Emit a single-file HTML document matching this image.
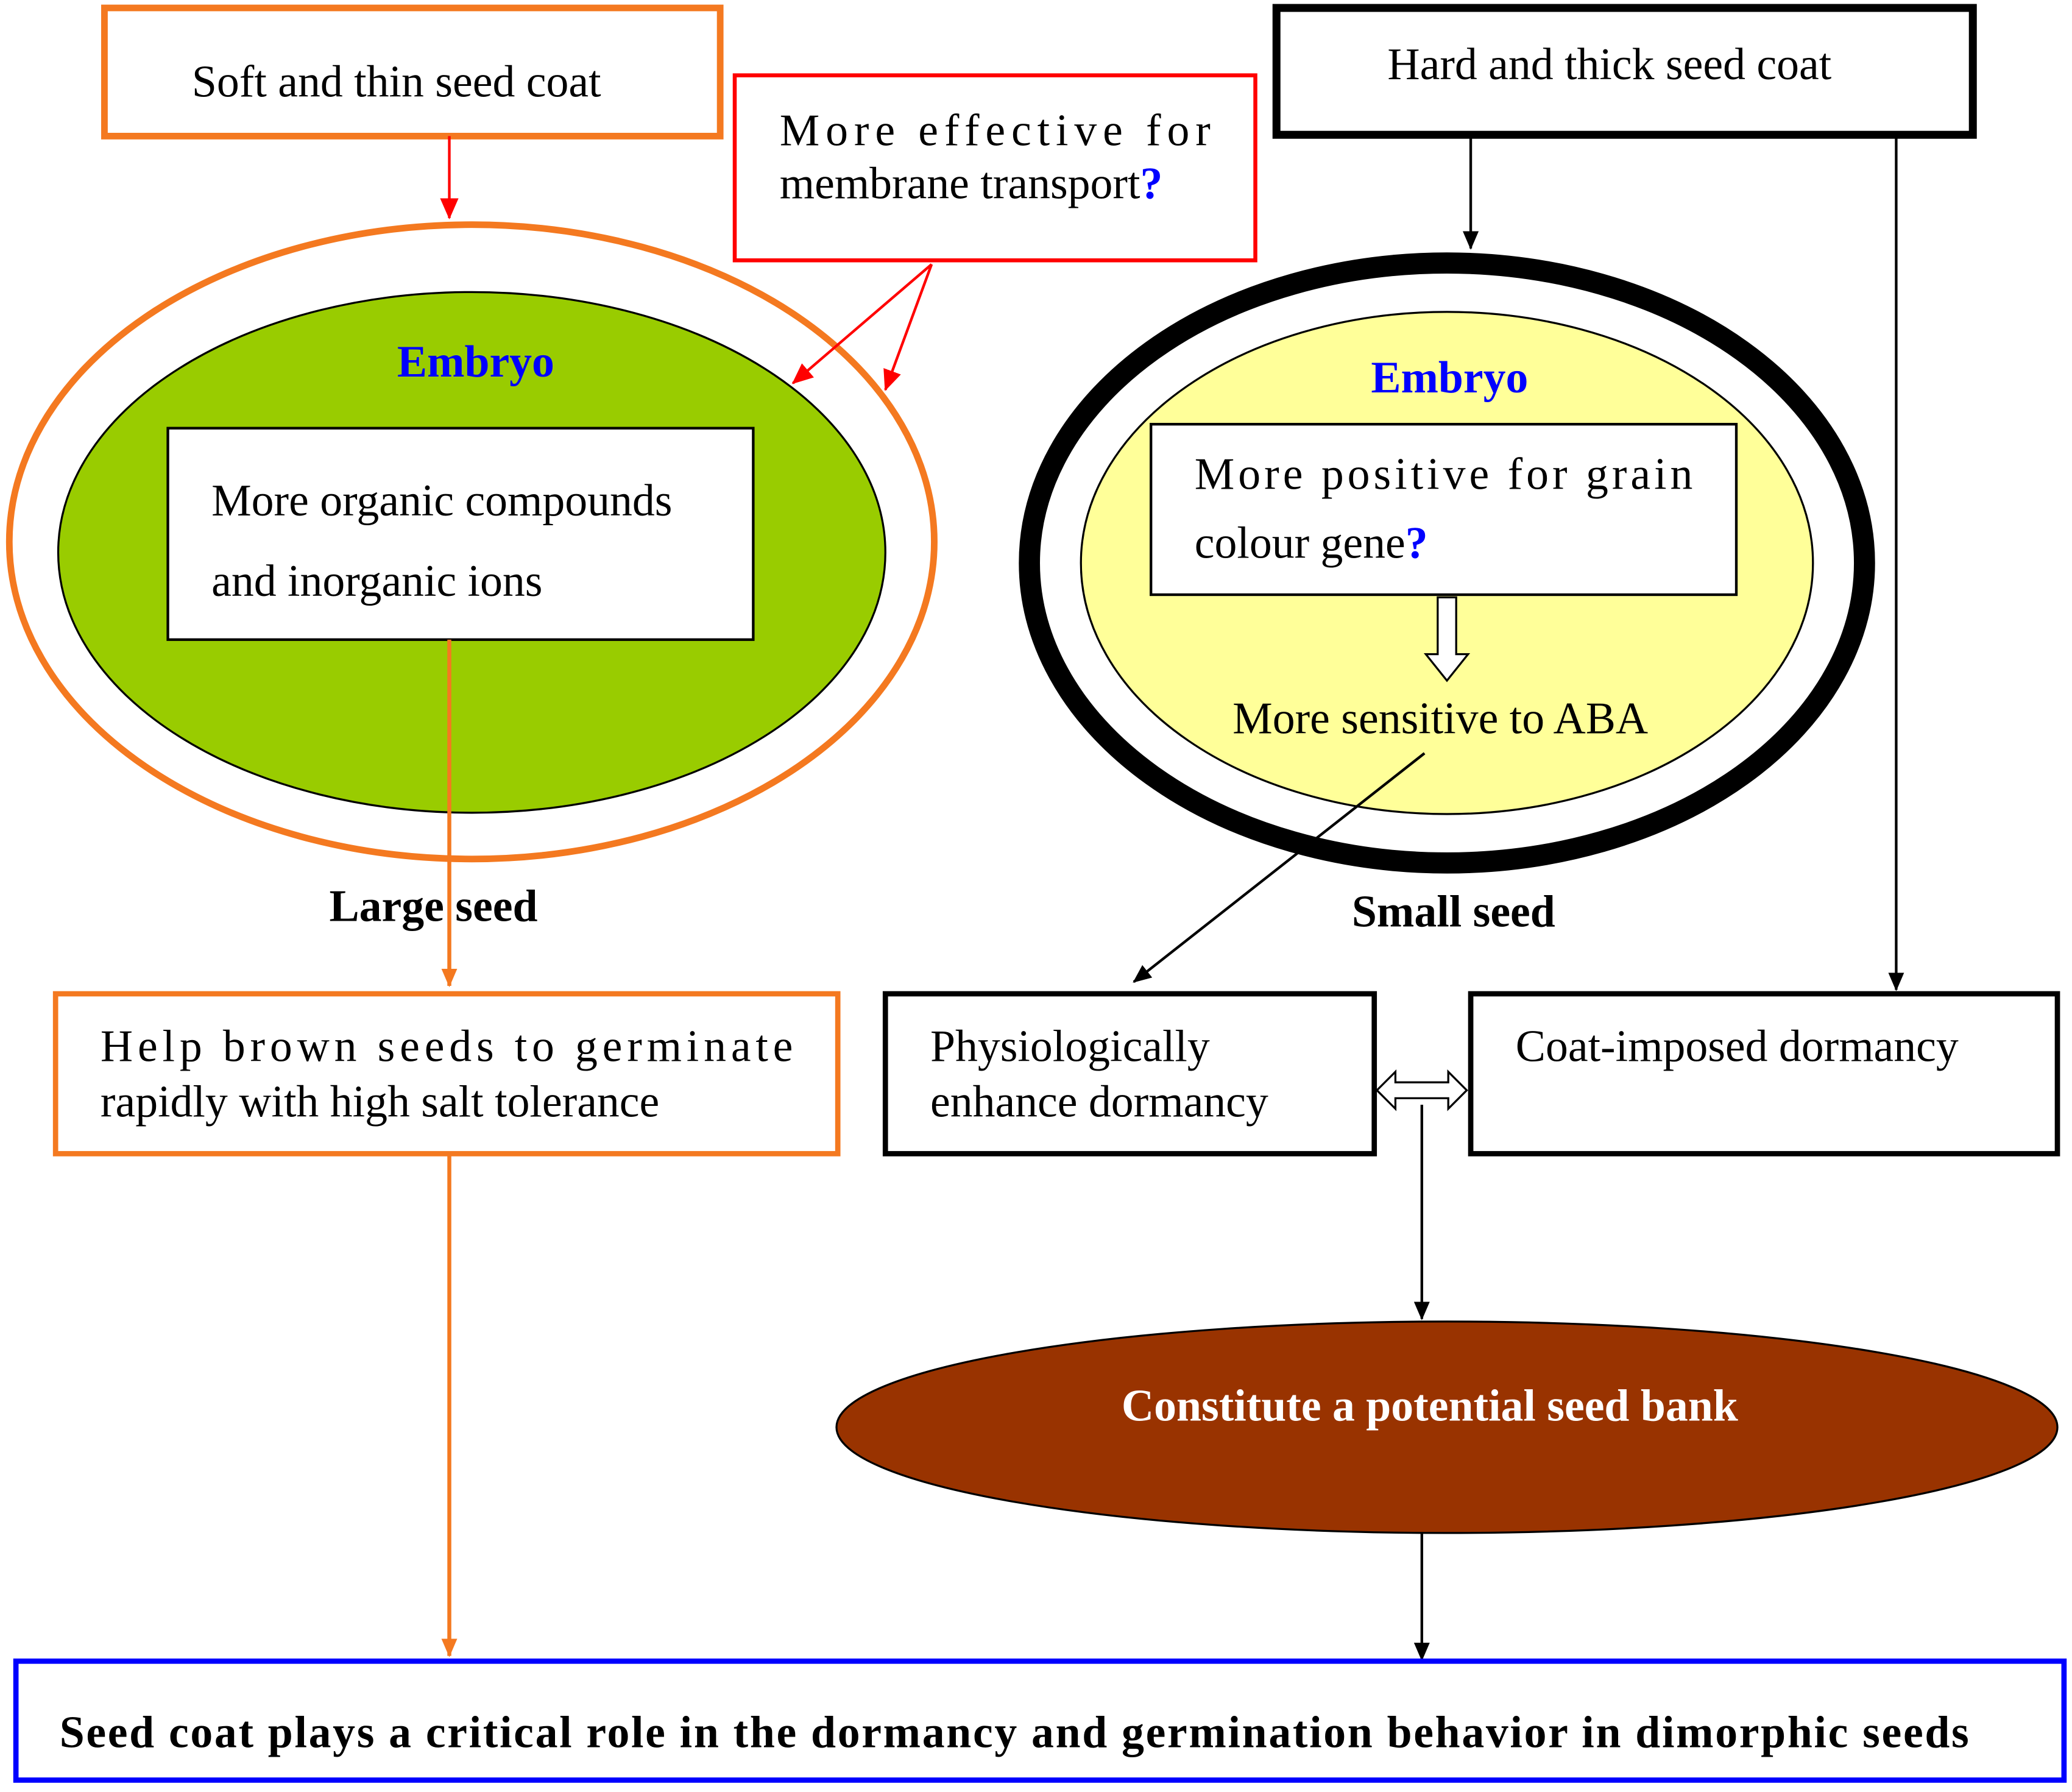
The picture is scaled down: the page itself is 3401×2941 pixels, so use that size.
<!DOCTYPE html>
<html><head><meta charset="utf-8"><style>
html,body{margin:0;padding:0;background:#fff;}
svg{display:block;}
text{font-family:"Liberation Serif",serif;}
</style></head><body>
<svg width="3401" height="2941" viewBox="0 0 1568 1356" xmlns="http://www.w3.org/2000/svg">
<defs>
<marker id="ar" markerWidth="10" markerHeight="10" refX="9" refY="5" orient="auto" markerUnits="userSpaceOnUse" viewBox="0 0 10 10"><path d="M0,0 L10,5 L0,10 z" fill="#ff0000"/></marker>
<marker id="ao" markerWidth="14" markerHeight="12" refX="13" refY="6" orient="auto" markerUnits="userSpaceOnUse"><path d="M0,0 L14,6 L0,12 z" fill="#f47920"/></marker>
<marker id="ab" markerWidth="14" markerHeight="12" refX="13" refY="6" orient="auto" markerUnits="userSpaceOnUse"><path d="M0,0 L14,6 L0,12 z" fill="#000"/></marker>
<marker id="ar2" markerWidth="16" markerHeight="14" refX="15" refY="7" orient="auto" markerUnits="userSpaceOnUse"><path d="M0,0 L16,7 L0,14 z" fill="#ff0000"/></marker>
</defs>
<rect width="1568" height="1356" fill="#fff"/>

<!-- top boxes -->
<rect x="79" y="6" width="466" height="97" fill="#fff" stroke="#f47920" stroke-width="5"/>
<text x="300" y="73" font-size="34" text-anchor="middle">Soft and thin seed coat</text>

<rect x="556" y="57" width="394" height="140" fill="#fff" stroke="#ff0000" stroke-width="3"/>
<text x="590" y="110" font-size="34" textLength="326" lengthAdjust="spacing">More effective for</text>
<text x="590" y="150" font-size="34">membrane transport<tspan fill="#0000ff" font-weight="bold">?</tspan></text>

<rect x="966" y="6" width="527" height="96" fill="#fff" stroke="#000" stroke-width="6"/>
<text x="1218" y="60" font-size="34" text-anchor="middle">Hard and thick seed coat</text>

<!-- left seed -->
<line x1="340" y1="103" x2="340" y2="165" stroke="#ff0000" stroke-width="2" marker-end="url(#ar2)"/>
<ellipse cx="357" cy="410" rx="350" ry="240" fill="#fff" stroke="#f47920" stroke-width="5"/>
<ellipse cx="357" cy="418" rx="313" ry="197" fill="#99cc00" stroke="#000" stroke-width="1.5"/>
<text x="360" y="285" font-size="34" font-weight="bold" fill="#0000ff" text-anchor="middle">Embryo</text>
<rect x="127" y="324" width="443" height="160" fill="#fff" stroke="#000" stroke-width="2"/>
<text x="160" y="390" font-size="34">More organic compounds</text>
<text x="160" y="451" font-size="34">and inorganic ions</text>
<line x1="705" y1="200" x2="600" y2="290" stroke="#ff0000" stroke-width="2" marker-end="url(#ar2)"/>
<line x1="705" y1="200" x2="670" y2="295" stroke="#ff0000" stroke-width="2" marker-end="url(#ar2)"/>
<line x1="340" y1="484" x2="340" y2="746" stroke="#f47920" stroke-width="3" marker-end="url(#ao)"/>
<text x="328" y="697" font-size="34" font-weight="bold" text-anchor="middle">Large seed</text>

<!-- right seed -->
<line x1="1113" y1="102" x2="1113" y2="188" stroke="#000" stroke-width="2" marker-end="url(#ab)"/>
<ellipse cx="1095" cy="426" rx="316" ry="227" fill="#fff" stroke="#000" stroke-width="16"/>
<ellipse cx="1095" cy="426" rx="277" ry="190" fill="#ffff99" stroke="#000" stroke-width="1.5"/>
<text x="1097" y="297" font-size="34" font-weight="bold" fill="#0000ff" text-anchor="middle">Embryo</text>
<rect x="871" y="321" width="443" height="129" fill="#fff" stroke="#000" stroke-width="2"/>
<text x="904" y="370" font-size="34" textLength="377" lengthAdjust="spacing">More positive for grain</text>
<text x="904" y="422" font-size="34">colour gene<tspan fill="#0000ff" font-weight="bold">?</tspan></text>
<path d="M1088,452 L1102,452 L1102,495 L1111,495 L1095,515 L1079,495 L1088,495 Z" fill="#fff" stroke="#000" stroke-width="1.5"/>
<text x="1090" y="555" font-size="34" text-anchor="middle">More sensitive to ABA</text>
<line x1="1078" y1="570" x2="858" y2="743" stroke="#000" stroke-width="2" marker-end="url(#ab)"/>
<text x="1100" y="701" font-size="34" font-weight="bold" text-anchor="middle">Small seed</text>
<line x1="1435" y1="102" x2="1435" y2="749" stroke="#000" stroke-width="2" marker-end="url(#ab)"/>

<!-- middle boxes -->
<rect x="42" y="752" width="592" height="121" fill="#fff" stroke="#f47920" stroke-width="4"/>
<text x="76" y="803" font-size="34" textLength="524" lengthAdjust="spacing">Help brown seeds to germinate</text>
<text x="76" y="845" font-size="34">rapidly with high salt tolerance</text>

<rect x="670" y="752" width="370" height="121" fill="#fff" stroke="#000" stroke-width="4"/>
<text x="704" y="803" font-size="34">Physiologically</text>
<text x="704" y="845" font-size="34">enhance dormancy</text>

<rect x="1113" y="752" width="444" height="121" fill="#fff" stroke="#000" stroke-width="4"/>
<text x="1147" y="803" font-size="34">Coat-imposed dormancy</text>

<path d="M1042,825 L1056,811 L1056,819 L1096,819 L1096,811 L1110,825 L1096,839 L1096,831 L1056,831 L1056,839 Z" fill="#fff" stroke="#000" stroke-width="1.5"/>
<line x1="1076" y1="836" x2="1076" y2="998" stroke="#000" stroke-width="2" marker-end="url(#ab)"/>

<ellipse cx="1095" cy="1080" rx="462" ry="80" fill="#993300" stroke="#000" stroke-width="1.5"/>
<text x="1082" y="1075" font-size="34" font-weight="bold" fill="#fff" text-anchor="middle">Constitute a potential seed bank</text>

<line x1="1076" y1="1160" x2="1076" y2="1256" stroke="#000" stroke-width="2" marker-end="url(#ab)"/>
<line x1="340" y1="873" x2="340" y2="1253" stroke="#f47920" stroke-width="3" marker-end="url(#ao)"/>

<rect x="12" y="1257" width="1550" height="90" fill="#fff" stroke="#0000ff" stroke-width="4"/>
<text x="45" y="1322" font-size="34" font-weight="bold" textLength="1445" lengthAdjust="spacing">Seed coat plays a critical role in the dormancy and germination behavior in dimorphic seeds</text>
</svg>
</body></html>
